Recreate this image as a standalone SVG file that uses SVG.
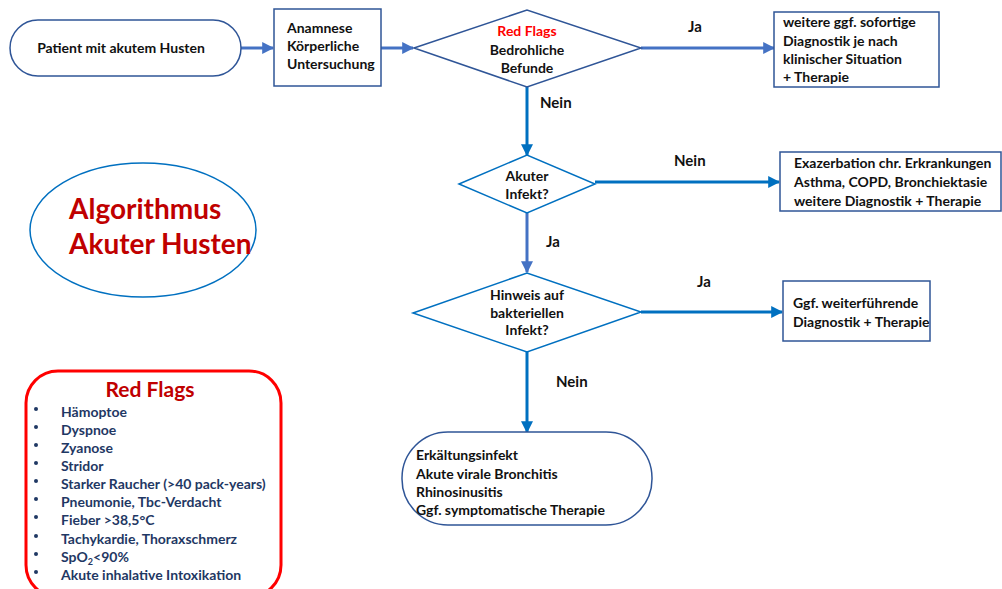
<svg xmlns="http://www.w3.org/2000/svg" width="1002" height="589" viewBox="0 0 1002 589">
  <defs>
    <style>
      .t { font-family: Lato, "Liberation Sans", sans-serif; font-weight: bold; font-size: 14px; fill: #111; }
      .c { text-anchor: middle; }
      .lbl { font-family: Lato, "Liberation Sans", sans-serif; font-weight: bold; font-size: 15px; fill: #111; }
      .node { fill: #fff; stroke: #2F5597; stroke-width: 1.5; }
      .dia { fill: #fff; stroke: #0070C0; stroke-width: 1.5; }
      .conn { fill: none; stroke-width: 3; }
      .c1 { stroke: #4472C4; }
      .c2 { stroke: #0070C0; }
      .rf { font-family: Lato, "Liberation Sans", sans-serif; font-weight: bold; font-size: 14px; fill: #1F3864; }
    </style>
    <marker id="ah1" viewBox="0 0 10 10" refX="9" refY="5" markerWidth="4" markerHeight="4" orient="auto" markerUnits="strokeWidth">
      <path d="M0,0 L10,5 L0,10 z" fill="#4472C4"/>
    </marker>
    <marker id="ah2" viewBox="0 0 10 10" refX="9" refY="5" markerWidth="4" markerHeight="4" orient="auto" markerUnits="strokeWidth">
      <path d="M0,0 L10,5 L0,10 z" fill="#0070C0"/>
    </marker>
  </defs>
  <rect width="1002" height="589" fill="#fff"/>

  <!-- connectors -->
  <g id="connectors">
    <line class="conn c1" x1="241" y1="48" x2="273" y2="48" marker-end="url(#ah1)"/>
    <line class="conn c1" x1="381" y1="48" x2="413" y2="48" marker-end="url(#ah1)"/>
    <line class="conn c1" x1="641" y1="48" x2="774" y2="48" marker-end="url(#ah1)"/>
    <line class="conn c2" x1="527" y1="87" x2="527" y2="155" marker-end="url(#ah2)"/>
    <line class="conn c2" x1="595" y1="182" x2="779" y2="182" marker-end="url(#ah2)"/>
    <line class="conn c1" x1="527" y1="213" x2="527" y2="272" marker-end="url(#ah1)"/>
    <line class="conn c2" x1="641" y1="312" x2="782" y2="312" marker-end="url(#ah2)"/>
    <line class="conn c2" x1="527" y1="352" x2="527" y2="432" marker-end="url(#ah2)"/>
    <text class="lbl" x="688" y="32">Ja</text>
    <text class="lbl" x="540" y="108">Nein</text>
    <text class="lbl" x="674" y="166">Nein</text>
    <text class="lbl" x="546" y="247">Ja</text>
    <text class="lbl" x="697" y="287">Ja</text>
    <text class="lbl" x="556" y="387">Nein</text>
  </g>

  <!-- start terminal -->
  <g id="start">
    <rect class="node" x="10" y="20" width="231" height="56" rx="28"/>
    <text class="t c" x="121" y="53">Patient mit akutem Husten</text>
  </g>

  <!-- history and examination -->
  <g id="anamnese">
    <rect class="node" x="274" y="9" width="107" height="77"/>
    <text class="t" x="287" y="33">Anamnese</text>
    <text class="t" x="287" y="51">Körperliche</text>
    <text class="t" x="287" y="69">Untersuchung</text>
  </g>

  <!-- decision: red flags -->
  <g id="redflag-decision">
    <polygon class="node" points="414,48 527,10 641,48 527,87"/>
    <text class="t c" x="527" y="36" style="fill:#FF0000">Red Flags</text>
    <text class="t c" x="527" y="55">Bedrohliche</text>
    <text class="t c" x="527" y="73">Befunde</text>
  </g>

  <g id="urgent">
    <rect class="node" x="774" y="12" width="165" height="75"/>
    <text class="t" x="783" y="27">weitere ggf. sofortige</text>
    <text class="t" x="783" y="46">Diagnostik je nach</text>
    <text class="t" x="783" y="64">klinischer Situation</text>
    <text class="t" x="783" y="82">+ Therapie</text>
  </g>

  <!-- decision: acute infection -->
  <g id="infekt-decision">
    <polygon class="dia" points="459,184 527,155 595,184 527,213"/>
    <text class="t c" x="527" y="181">Akuter</text>
    <text class="t c" x="527" y="199">Infekt?</text>
  </g>

  <g id="chronic">
    <rect class="node" x="780" y="152" width="221" height="59"/>
    <text class="t" x="794" y="168">Exazerbation chr. Erkrankungen</text>
    <text class="t" x="794" y="187">Asthma, COPD, Bronchiektasie</text>
    <text class="t" x="794" y="206">weitere Diagnostik + Therapie</text>
  </g>

  <!-- decision: bacterial infection -->
  <g id="bakteriell-decision">
    <polygon class="dia" points="413,313 527,273 641,312 527,352"/>
    <text class="t c" x="527" y="300">Hinweis auf</text>
    <text class="t c" x="527" y="318">bakteriellen</text>
    <text class="t c" x="527" y="335">Infekt?</text>
  </g>

  <g id="bakteriell">
    <rect class="node" x="783" y="281" width="147" height="60"/>
    <text class="t" x="793" y="308">Ggf. weiterführende</text>
    <text class="t" x="793" y="327">Diagnostik + Therapie</text>
  </g>

  <!-- end terminal -->
  <g id="viral">
    <rect class="node" x="402" y="432" width="250" height="93" rx="46"/>
    <text class="t" x="416" y="460">Erkältungsinfekt</text>
    <text class="t" x="416" y="479">Akute virale Bronchitis</text>
    <text class="t" x="416" y="497">Rhinosinusitis</text>
    <text class="t" x="416" y="515">Ggf. symptomatische Therapie</text>
  </g>

  <!-- title -->
  <g id="title">
    <ellipse cx="143" cy="230" rx="113" ry="67" fill="#fff" stroke="#0070C0" stroke-width="1.5"/>
    <text x="69" y="219" font-family="Lato, 'Liberation Sans', sans-serif" font-weight="bold" font-size="28" fill="#C00000">Algorithmus</text>
    <text x="69" y="254" font-family="Lato, 'Liberation Sans', sans-serif" font-weight="bold" font-size="28" fill="#C00000">Akuter Husten</text>
  </g>

  <!-- red flag list -->
  <g id="redflags">
    <rect x="26" y="371" width="255" height="226" rx="32" fill="#fff" stroke="#FF0000" stroke-width="3"/>
    <text x="150" y="397" text-anchor="middle" font-family="Lato, 'Liberation Sans', sans-serif" font-weight="bold" font-size="21" fill="#C00000">Red Flags</text>
    <g fill="#1F3864">
      <circle cx="36" cy="409" r="2"/>
      <circle cx="36" cy="427" r="2"/>
      <circle cx="36" cy="445" r="2"/>
      <circle cx="36" cy="463" r="2"/>
      <circle cx="36" cy="481" r="2"/>
      <circle cx="36" cy="499" r="2"/>
      <circle cx="36" cy="517" r="2"/>
      <circle cx="36" cy="536" r="2"/>
      <circle cx="36" cy="554" r="2"/>
      <circle cx="36" cy="572" r="2"/>
    </g>
    <text class="rf" x="61" y="417">Hämoptoe</text>
    <text class="rf" x="61" y="435">Dyspnoe</text>
    <text class="rf" x="61" y="453">Zyanose</text>
    <text class="rf" x="61" y="471">Stridor</text>
    <text class="rf" x="61" y="489">Starker Raucher (&gt;40 pack-years)</text>
    <text class="rf" x="61" y="507">Pneumonie, Tbc-Verdacht</text>
    <text class="rf" x="61" y="525">Fieber &gt;38,5°C</text>
    <text class="rf" x="61" y="544">Tachykardie, Thoraxschmerz</text>
    <text class="rf" x="61" y="562">SpO<tspan font-size="9" dy="3">2</tspan><tspan dy="-3">&lt;90%</tspan></text>
    <text class="rf" x="61" y="580">Akute inhalative Intoxikation</text>
  </g>
</svg>
